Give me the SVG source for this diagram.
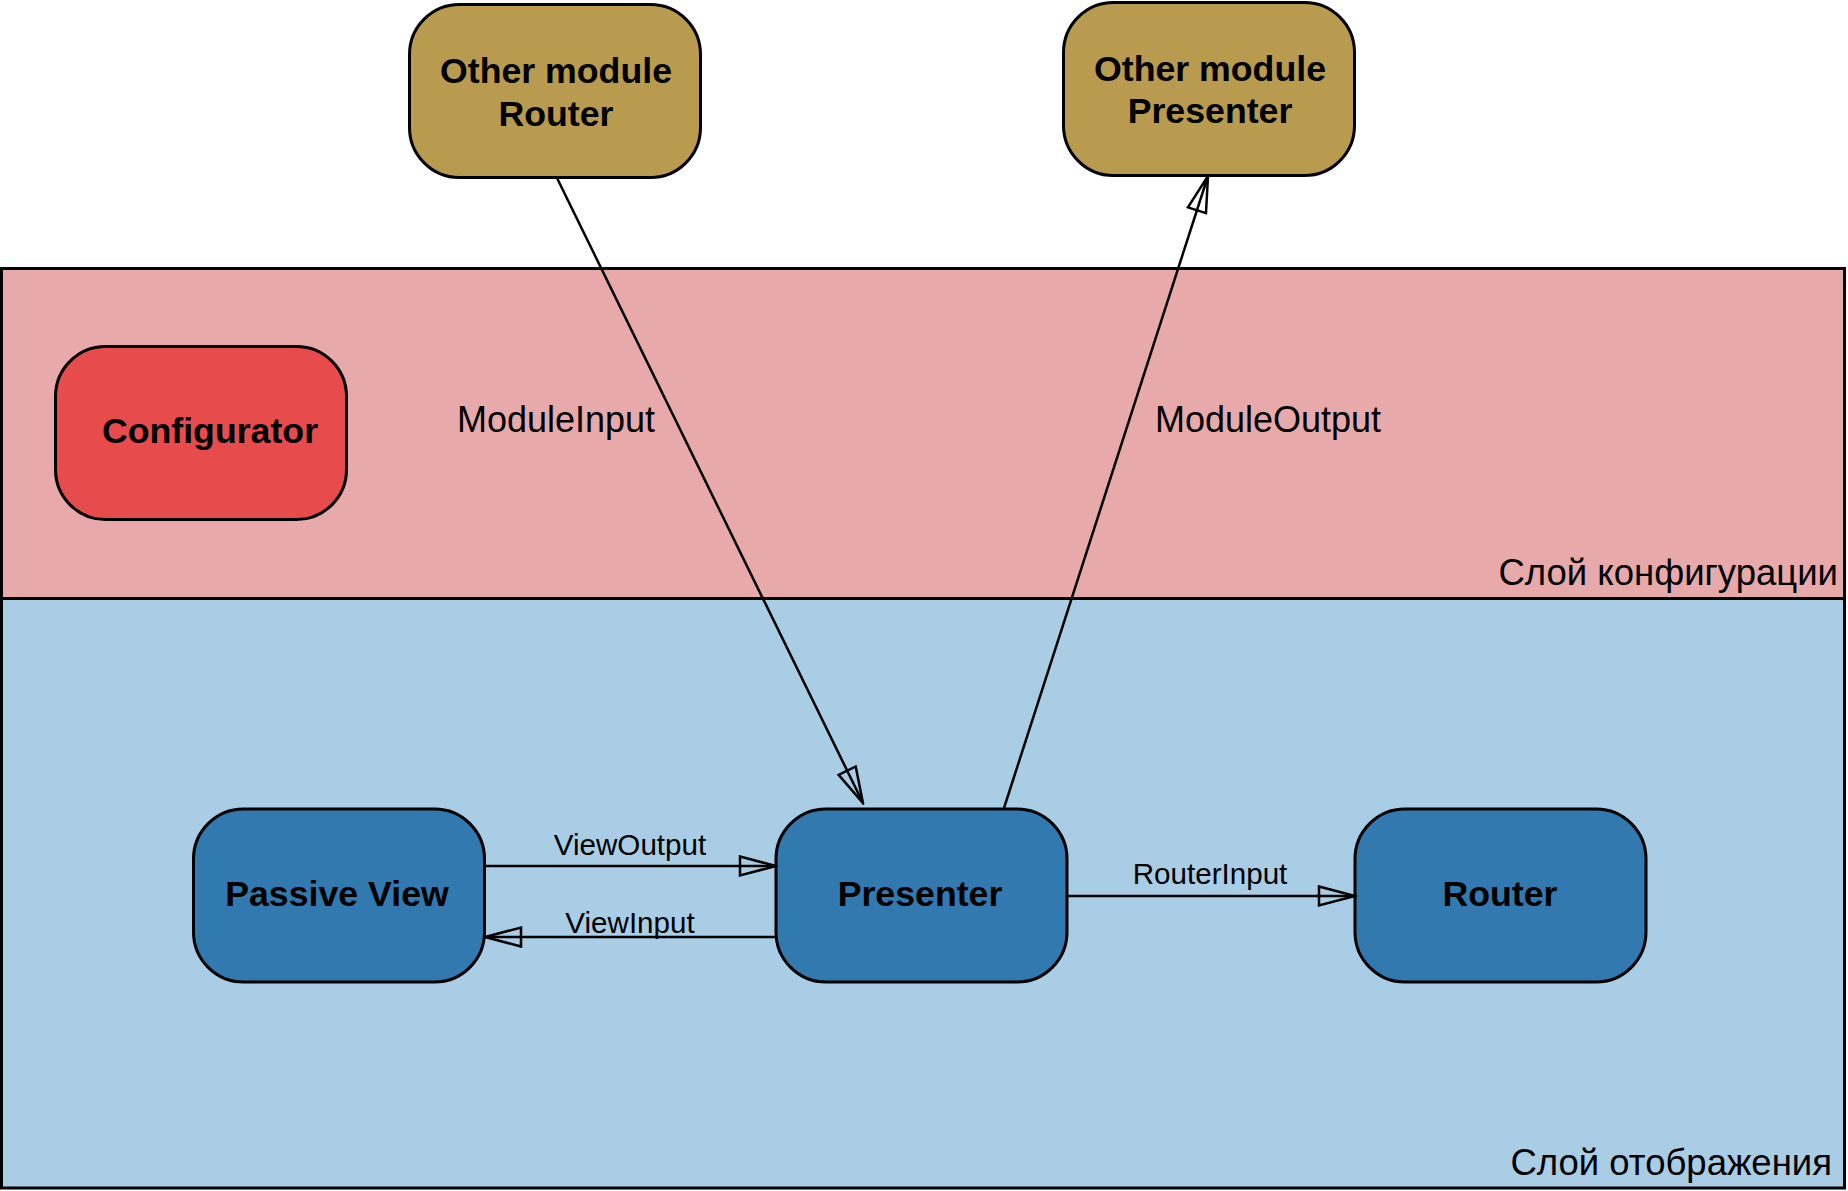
<svg xmlns="http://www.w3.org/2000/svg" width="1848" height="1191" viewBox="0 0 1848 1191">
  <style>
    .layer { stroke: #000; stroke-width: 3; }
    .node { stroke: #000; stroke-width: 3; }
    .gold { fill: #B89B4E; }
    .red { fill: #E74B4B; }
    .blue { fill: #3279AF; }
    .ntext { font-family: "Liberation Sans", Arial, sans-serif; font-weight: bold; font-size: 35.7px; fill: #000; text-anchor: middle; }
    .label { font-family: "Liberation Sans", Arial, sans-serif; font-size: 36px; fill: #000; text-anchor: middle; }
    .small { font-family: "Liberation Sans", Arial, sans-serif; font-size: 29.6px; fill: #000; text-anchor: middle; }
    .lname { font-family: "Liberation Sans", Arial, sans-serif; font-size: 36.5px; fill: #000; text-anchor: end; }
    .conn { stroke: #000; stroke-width: 2.5; fill: none; marker-end: url(#hollow); }
  </style>
  <defs>
    <marker id="hollow" markerUnits="userSpaceOnUse" markerWidth="40" markerHeight="24" viewBox="-2 -2 40 24" refX="36" refY="9.5" orient="auto">
      <path d="M0,0 L36,9.5 L0,19 Z" fill="none" stroke="#000" stroke-width="2.5" stroke-linejoin="miter"/>
    </marker>
  </defs>
  <rect width="1848" height="1191" fill="#FFFFFF"/>
  <g id="layer-config">
    <rect class="layer" x="1.5" y="268.5" width="1843" height="330" fill="#E8A9AA"/>
    <text class="lname" x="1838" y="585">Слой конфигурации</text>
  </g>
  <g id="layer-view">
    <rect class="layer" x="1.5" y="598.5" width="1843" height="589.5" fill="#AACDE6"/>
    <text class="lname" x="1832" y="1175">Слой отображения</text>
  </g>
  <g id="other-router">
    <rect class="node gold" x="409.5" y="4.5" width="291" height="173" rx="50" ry="50"/>
    <text class="ntext" x="556" y="83">Other module</text>
    <text class="ntext" x="556" y="126">Router</text>
  </g>
  <g id="other-presenter">
    <rect class="node gold" x="1063.5" y="2.5" width="291" height="173" rx="50" ry="50"/>
    <text class="ntext" x="1210" y="81">Other module</text>
    <text class="ntext" x="1210" y="123">Presenter</text>
  </g>
  <g id="configurator">
    <rect class="node red" x="55.5" y="346.5" width="291" height="173" rx="50" ry="50"/>
    <text class="ntext" x="210" y="443">Configurator</text>
  </g>
  <g id="passive-view">
    <rect class="node blue" x="193.5" y="809" width="291" height="173" rx="50" ry="50"/>
    <text class="ntext" x="337" y="906">Passive View</text>
  </g>
  <g id="presenter">
    <rect class="node blue" x="776" y="809" width="291" height="173" rx="50" ry="50"/>
    <text class="ntext" x="920" y="906">Presenter</text>
  </g>
  <g id="router">
    <rect class="node blue" x="1355" y="809" width="291" height="173" rx="50" ry="50"/>
    <text class="ntext" x="1500" y="906">Router</text>
  </g>
  <g id="connectors">
    <line class="conn" x1="557" y1="178" x2="863" y2="803"/>
    <line class="conn" x1="1004" y1="808" x2="1208" y2="176"/>
    <line class="conn" x1="484.5" y1="866" x2="776" y2="866"/>
    <line class="conn" x1="776" y1="937" x2="485" y2="937"/>
    <line class="conn" x1="1067" y1="896" x2="1355" y2="896"/>
    <text class="label" x="556" y="432">ModuleInput</text>
    <text class="label" x="1268" y="432">ModuleOutput</text>
    <text class="small" x="630" y="855">ViewOutput</text>
    <text class="small" x="630" y="933">ViewInput</text>
    <text class="small" x="1210" y="884">RouterInput</text>
  </g>
</svg>
